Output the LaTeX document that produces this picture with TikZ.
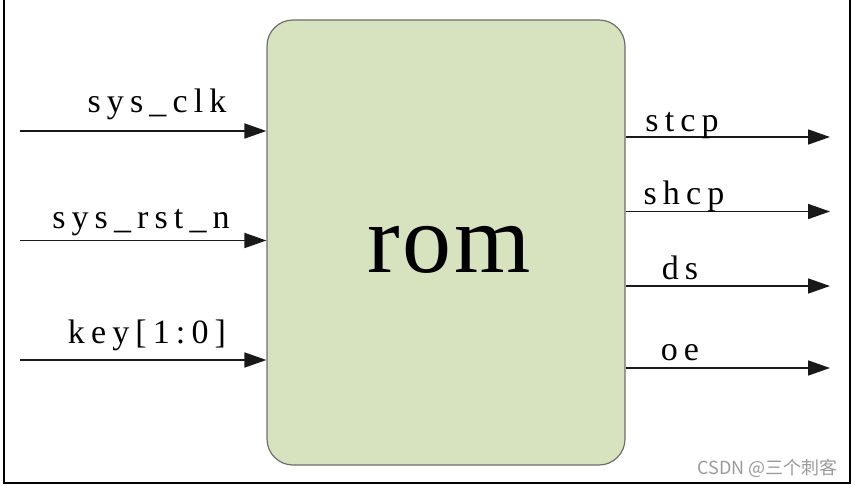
\documentclass[tikz,border=0pt]{standalone}
\usepackage{fontspec}
\usetikzlibrary{positioning, arrows.meta, calc}
\usepackage{xcolor}
\newfontfamily\portfont[LetterSpace=18]{Liberation Serif}
\newfontfamily\romfont[LetterSpace=3]{Liberation Serif}
\newfontfamily\markfont{Noto Sans CJK SC}
\definecolor{romFill}{HTML}{D7E3BF}
\definecolor{romEdge}{HTML}{6E6E6E}
\definecolor{markGray}{HTML}{9A9A9A}

\begin{document}
\begin{tikzpicture}[
    x=0.5pt, y=-0.5pt,
    >={Triangle[length=11pt,width=7.5pt]},
    block/.style={draw=romEdge, fill=romFill, line width=0.6pt, rounded corners=13pt,
        minimum width=179pt, minimum height=222.5pt, inner sep=0pt},
    sig/.style={->, draw=black!90, line width=0.85pt},
    port/.style={anchor=base, inner sep=0pt, font=\portfont\fontsize{17pt}{20pt}\selectfont}
]
    \useasboundingbox (0,0) rectangle (855,486);
    % frame
    \draw[line width=1.3pt] (4,0) -- (4,483) -- (850,483) -- (850,0);

    \node[block] (rom) at (446,242.5) {};
    \node[anchor=base, inner sep=0pt, font=\romfont\fontsize{49pt}{56pt}\selectfont] (romtxt) at (449,272.5) {rom};

    % inputs
    \coordinate (clk) at (20,131);
    \coordinate (rst) at (20,240.5);
    \coordinate (key) at (20,360);
    \draw[sig] (clk) -- (clk -| rom.west);
    \draw[sig] (rst) -- (rst -| rom.west);
    \draw[sig] (key) -- (key -| rom.west);
    \node[port] (clklbl) at (157,113) {sys\_clk};
    \node[port] (rstlbl) at (141,228) {sys\_rst\_n};
    \node[port] (keylbl) at (147,343) {key[1:0]};

    % outputs
    \coordinate (stcp) at (830,137);
    \coordinate (shcp) at (830,211.5);
    \coordinate (ds) at (830,286);
    \coordinate (oe) at (830,368);
    \draw[sig] (stcp -| rom.east) -- (stcp);
    \draw[sig] (shcp -| rom.east) -- (shcp);
    \draw[sig] (ds -| rom.east) -- (ds);
    \draw[sig] (oe -| rom.east) -- (oe);
    \node[port] (stcplbl) at (682,132) {stcp};
    \node[port] (shcplbl) at (684,205) {shcp};
    \node[port] (dslbl) at (680,279) {ds};
    \node[port] (oelbl) at (680,360) {oe};

    \node[anchor=base east, inner sep=0pt, text=markGray, font=\markfont\fontsize{9pt}{10pt}\selectfont] (mark) at (838,474) {CSDN @三个刺客};
\end{tikzpicture}
\end{document}
